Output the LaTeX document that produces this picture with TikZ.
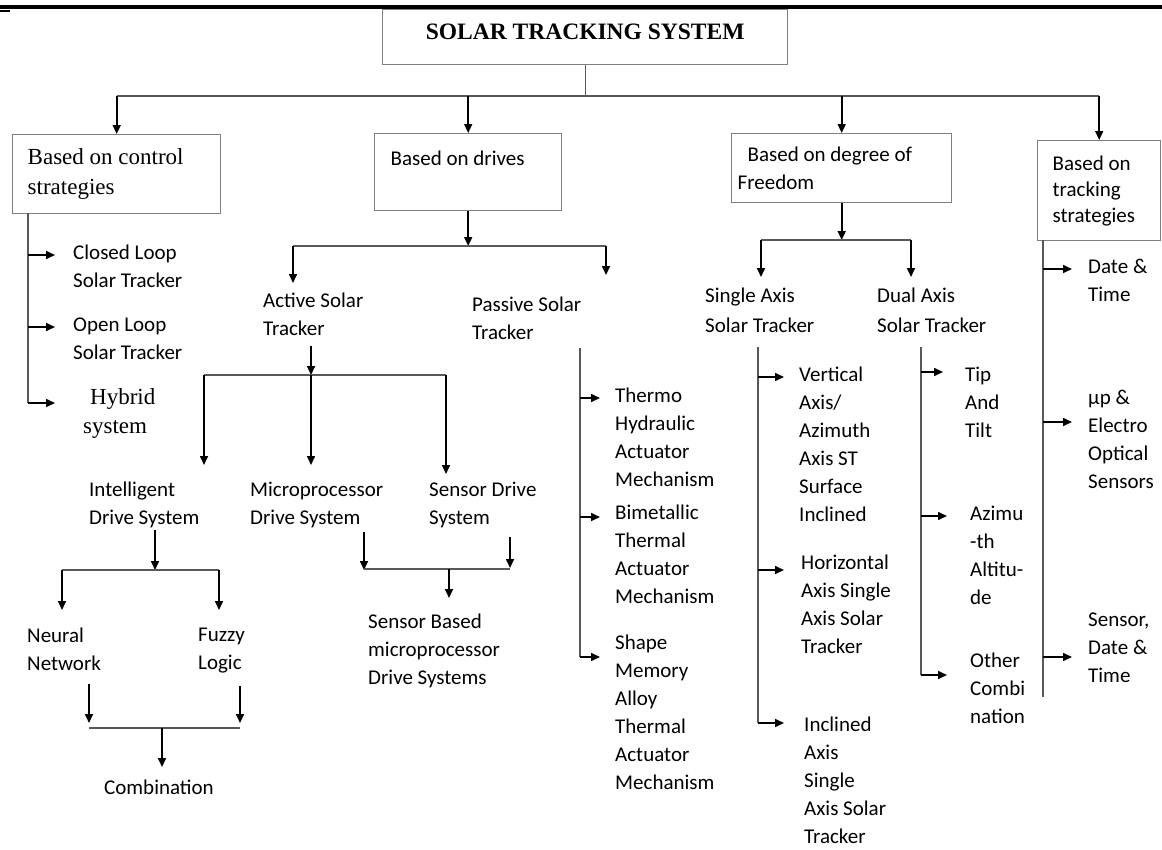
\documentclass[tikz,border=0pt]{standalone}
\usepackage{fontspec}
\setmainfont{Liberation Serif}
\newfontfamily\calib{Carlito}
\usetikzlibrary{positioning,arrows.meta}

\begin{document}
\begin{tikzpicture}[x=1pt, y=-1pt]
\tikzstyle{box}   = [rectangle, draw=black!50, line width=1.4pt, anchor=north west, align=flush left, inner ysep=0pt]
\tikzstyle{item}  = [anchor=north west, align=left, inner sep=0pt, font=\calib\fontsize{21}{28}\selectfont]
\tikzstyle{roman} = [anchor=north west, align=left, inner sep=0pt, font=\fontsize{23}{29}\selectfont]
\tikzstyle{link}  = [draw=black!65, line width=1.4pt]
\tikzstyle{arrow} = [draw=black, line width=1.6pt, -{Triangle[length=9pt, width=8pt]}]

\useasboundingbox (0,0) rectangle (1162,849);

% page rule
\draw [line width=4pt]   (0,7)  -- (1162,7);
\draw [line width=2.5pt] (0,11) -- (10,11);

% main boxes
\node (title)   [box, minimum width=405pt, minimum height=55pt, align=center, text depth=10pt,
                 font=\bfseries\fontsize{23.5}{28}\selectfont] at (382,9) {SOLAR TRACKING SYSTEM};
\node (ctrl)    [box, minimum width=208pt, minimum height=79pt, inner xsep=15pt, text width=178pt,
                 font=\fontsize{23}{30}\selectfont] at (12,134) {Based on control\\strategies};
\node (drives)  [box, minimum width=187pt, minimum height=77pt, inner xsep=16pt, text width=155pt,
                 font=\calib\fontsize{21}{28}\selectfont] at (374,133) {Based on drives\\\mbox{}};
\node (freedom) [box, minimum width=220pt, minimum height=69pt, inner xsep=6pt, text width=208pt,
                 font=\calib\fontsize{21}{28}\selectfont] at (731,133) {\hspace*{10pt}Based on degree of\\Freedom};
\node (track)   [box, minimum width=123pt, minimum height=100pt, inner xsep=15pt, text width=93pt,
                 font=\calib\fontsize{21}{26}\selectfont] at (1037,140) {Based on\\tracking\\strategies};

\coordinate (topbus) at (0,96);
\draw [link]  (title.south) -- (title.south |- topbus);
\draw [link]  (ctrl.north |- topbus) -- (track.north |- topbus);
\draw [arrow] (ctrl.north |- topbus)    -- (ctrl.north);
\draw [arrow] (drives.north |- topbus)  -- (drives.north);
\draw [arrow] (freedom.north |- topbus) -- (freedom.north);
\draw [arrow] (track.north |- topbus)   -- (track.north);

% control strategies
\coordinate (ctrlbus) at (28,213);
\coordinate (cl-in) at (55,255);
\coordinate (ol-in) at (55,327);
\coordinate (hy-in) at (55,403);
\node (closed) [item]  at (73,245) {Closed Loop\\Solar Tracker};
\node (open)   [item]  at (73,318) {Open Loop\\Solar Tracker};
\node (hybrid) [roman] at (83,388) {\hspace*{7pt}Hybrid\\system};
\draw [link]  (ctrlbus) -- (ctrlbus |- hy-in);
\draw [arrow] (ctrlbus |- cl-in) -- (cl-in);
\draw [arrow] (ctrlbus |- ol-in) -- (ol-in);
\draw [arrow] (ctrlbus |- hy-in) -- (hy-in);

% drives
\coordinate (drvbus) at (0,246);
\coordinate (act-in) at (293,283);
\coordinate (pas-in) at (606,275);
\node (active)  [item] at (263,293) {Active Solar\\Tracker};
\node (passive) [item] at (472,297) {Passive Solar\\Tracker};
\draw [arrow] (drives.south) -- (drives.south |- drvbus);
\draw [link]  (act-in |- drvbus) -- (pas-in |- drvbus);
\draw [arrow] (act-in |- drvbus) -- (act-in);
\draw [arrow] (pas-in |- drvbus) -- (pas-in);

% active trackers
\coordinate (actbus) at (311,375);
\coordinate (int-in) at (204,465);
\coordinate (mic-in) at (311,465);
\coordinate (sen-in) at (446,474);
\node (intelligent) [item] at (89,482)  {Intelligent\\Drive System};
\node (micro)       [item] at (250,482) {Microprocessor\\Drive System};
\node (sensor)      [item] at (429,482) {Sensor Drive\\System};
\draw [arrow, shorten <=10pt] (active.south -| actbus) -- (actbus);
\draw [link]  (int-in |- actbus) -- (sen-in |- actbus);
\draw [arrow] (int-in |- actbus) -- (int-in);
\draw [arrow] (actbus) -- (mic-in);
\draw [arrow] (sen-in |- actbus) -- (sen-in);

% intelligent drive
\coordinate (intbus) at (155,570);
\coordinate (nn-in) at (62,610);
\coordinate (fl-in) at (219,610);
\node (neural) [item] at (27,628)  {Neural\\Network};
\node (fuzzy)  [item] at (198,628) {Fuzzy\\Logic};
\draw [arrow, shorten <=2pt] (intelligent.south -| intbus) -- (intbus);
\draw [link]  (nn-in |- intbus) -- (fl-in |- intbus);
\draw [arrow] (nn-in |- intbus) -- (nn-in);
\draw [arrow] (fl-in |- intbus) -- (fl-in);

\coordinate (combus) at (162,728);
\coordinate (nn-out) at (89,723);
\coordinate (fl-out) at (240,723);
\node (combination) [item] at (104,780) {Combination};
\draw [arrow, shorten <=13pt] (neural.south -| nn-out) -- (nn-out);
\draw [arrow, shorten <=13pt] (fuzzy.south -| fl-out)  -- (fl-out);
\draw [link]  (nn-out |- combus) -- (fl-out |- combus);
\draw [arrow, shorten >=13pt] (combus) -- (combus |- combination.north);

% microprocessor + sensor
\coordinate (msbus) at (449,569);
\coordinate (mic-out) at (364,570);
\coordinate (sen-out) at (510,568);
\node (sbased) [item] at (368,614) {Sensor Based\\microprocessor\\Drive Systems};
\draw [arrow, shorten <=4pt] (micro.south -| mic-out)  -- (mic-out);
\draw [arrow, shorten <=9pt] (sensor.south -| sen-out) -- (sen-out);
\draw [link]  (mic-out |- msbus) -- (sen-out |- msbus);
\draw [arrow, shorten >=16pt] (msbus) -- (msbus |- sbased.north);

% passive trackers
\coordinate (pasbus) at (580,348);
\coordinate (th-in) at (600,398);
\coordinate (bi-in) at (600,517);
\coordinate (sh-in) at (600,657);
\node (thermo)  [item] at (615,388) {Thermo\\Hydraulic\\Actuator\\Mechanism};
\node (bimetal) [item] at (615,505) {Bimetallic\\Thermal\\Actuator\\Mechanism};
\node (shape)   [item] at (615,635) {Shape\\Memory\\Alloy\\Thermal\\Actuator\\Mechanism};
\draw [link]  (pasbus) -- (pasbus |- sh-in);
\draw [arrow] (pasbus |- th-in) -- (th-in);
\draw [arrow] (pasbus |- bi-in) -- (bi-in);
\draw [arrow] (pasbus |- sh-in) -- (sh-in);

% degree of freedom
\coordinate (frbus) at (0,240);
\coordinate (sa-in) at (761,277);
\coordinate (da-in) at (911,277);
\node (single) [item, font=\calib\fontsize{21}{30}\selectfont] at (705,288) {Single Axis\\Solar Tracker};
\node (dual)   [item, font=\calib\fontsize{21}{30}\selectfont] at (877,288) {Dual Axis\\Solar Tracker};
\draw [arrow] (freedom.south) -- (freedom.south |- frbus);
\draw [link]  (sa-in |- frbus) -- (da-in |- frbus);
\draw [arrow] (sa-in |- frbus) -- (sa-in);
\draw [arrow] (da-in |- frbus) -- (da-in);

% single axis
\coordinate (sabus) at (758,347);
\coordinate (va-in) at (784,377);
\coordinate (ha-in) at (784,570);
\coordinate (ia-in) at (784,723);
\node (vertical)   [item] at (799,367) {Vertical\\Axis/\\Azimuth\\Axis ST\\Surface\\Inclined};
\node (horizontal) [item] at (801,555) {Horizontal\\Axis Single\\Axis Solar\\Tracker};
\node (inclined)   [item] at (804,717) {Inclined\\Axis\\Single\\Axis Solar\\Tracker};
\draw [link]  (sabus) -- (sabus |- ia-in);
\draw [arrow] (sabus |- va-in) -- (va-in);
\draw [arrow] (sabus |- ha-in) -- (ha-in);
\draw [arrow] (sabus |- ia-in) -- (ia-in);

% dual axis
\coordinate (dabus) at (921,347);
\coordinate (tt-in) at (943,372);
\coordinate (az-in) at (947,516);
\coordinate (oc-in) at (947,675);
\node (tiptilt) [item] at (965,367) {Tip\\And\\Tilt};
\node (azimuth) [item] at (970,506) {Azimu\\-th\\Altitu-\\de};
\node (other)   [item] at (970,653) {Other\\Combi\\nation};
\draw [link]  (dabus) -- (dabus |- oc-in);
\draw [arrow] (dabus |- tt-in) -- (tt-in);
\draw [arrow] (dabus |- az-in) -- (az-in);
\draw [arrow] (dabus |- oc-in) -- (oc-in);

% tracking strategies
\coordinate (trbus) at (1043,240);
\coordinate (trend) at (1043,697);
\coordinate (dt-in) at (1072,269);
\coordinate (eo-in) at (1072,422);
\coordinate (sd-in) at (1072,657);
\node (datetime) [item] at (1088,259) {Date \&\\Time};
\node (optical)  [item] at (1088,390) {µp \&\\Electro\\Optical\\Sensors};
\node (sdt)      [item] at (1088,613) {Sensor,\\Date \&\\Time};
\draw [link]  (trbus) -- (trend);
\draw [arrow] (trbus |- dt-in) -- (dt-in);
\draw [arrow] (trbus |- eo-in) -- (eo-in);
\draw [arrow] (trbus |- sd-in) -- (sd-in);
\end{tikzpicture}
\end{document}
